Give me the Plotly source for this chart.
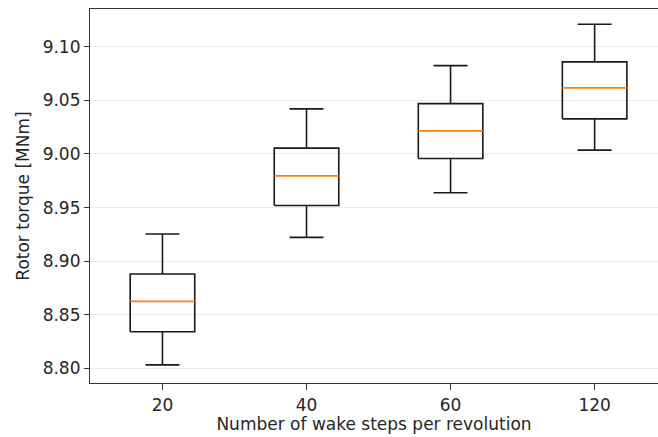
import plotly.graph_objects as go

categories = ["20", "40", "60", "120"]
positions = [1, 2, 3, 4]
whis_lo = [8.8034, 8.9222, 8.9638, 9.0036]
q1 = [8.8342, 8.9520, 8.9957, 9.0327]
median = [8.8626, 8.9796, 9.0215, 9.0616]
q3 = [8.8881, 9.0054, 9.0469, 9.0858]
whis_hi = [8.9254, 9.0420, 9.0823, 9.1209]

y_ticks = [8.80, 8.85, 8.90, 8.95, 9.00, 9.05, 9.10]
y_tick_text = ["8.80", "8.85", "8.90", "8.95", "9.00", "9.05", "9.10"]

BOX_HALF = 0.224
CAP_HALF = 0.118

box_x, box_y = [], []
wh_x, wh_y = [], []
med_x, med_y = [], []
for p, lo, a, m, b, hi in zip(positions, whis_lo, q1, median, q3, whis_hi):
    box_x += [p - BOX_HALF, p + BOX_HALF, p + BOX_HALF, p - BOX_HALF, p - BOX_HALF, None]
    box_y += [a, a, b, b, a, None]
    wh_x += [p, p, None, p, p, None,
             p - CAP_HALF, p + CAP_HALF, None, p - CAP_HALF, p + CAP_HALF, None]
    wh_y += [a, lo, None, b, hi, None, lo, lo, None, hi, hi, None]
    med_x += [p - BOX_HALF, p + BOX_HALF, None]
    med_y += [m, m, None]

fig = go.Figure()
fig.add_trace(go.Scatter(x=wh_x, y=wh_y, mode="lines",
                         line=dict(color="#1a1a1a", width=1.6), hoverinfo="skip"))
fig.add_trace(go.Scatter(x=box_x, y=box_y, mode="lines",
                         line=dict(color="#1a1a1a", width=1.6), hoverinfo="skip"))
fig.add_trace(go.Scatter(x=med_x, y=med_y, mode="lines",
                         line=dict(color="#ff7f0e", width=1.6), hoverinfo="skip"))

font = dict(family="DejaVu Sans", size=17, color="#262626")
fig.update_layout(
    width=658, height=437,
    margin=dict(l=90, r=0, t=9, b=54),
    paper_bgcolor="white", plot_bgcolor="white",
    showlegend=False,
    font=font,
    xaxis=dict(
        range=[0.497, 4.44],
        tickmode="array", tickvals=positions, ticktext=categories,
        showgrid=False, zeroline=False,
        showline=True, linecolor="#333333", linewidth=1.2, mirror=True,
        ticks="outside", ticklen=6, tickcolor="#333333", tickwidth=1,
        title=dict(text="Number of wake steps per revolution", standoff=4, font=font),
        tickfont=font,
    ),
    yaxis=dict(
        range=[8.7865, 9.1351],
        tickmode="array", tickvals=y_ticks, ticktext=y_tick_text,
        showgrid=True, gridcolor="#ebebeb", gridwidth=1.2,
        zeroline=False,
        showline=True, linecolor="#333333", linewidth=1.2,
        ticks="outside", ticklen=5, tickcolor="#333333", tickwidth=1,
        title=dict(text="Rotor torque [MNm]", standoff=8, font=font),
        tickfont=font,
    ),
)
fig.write_html("out.html")
